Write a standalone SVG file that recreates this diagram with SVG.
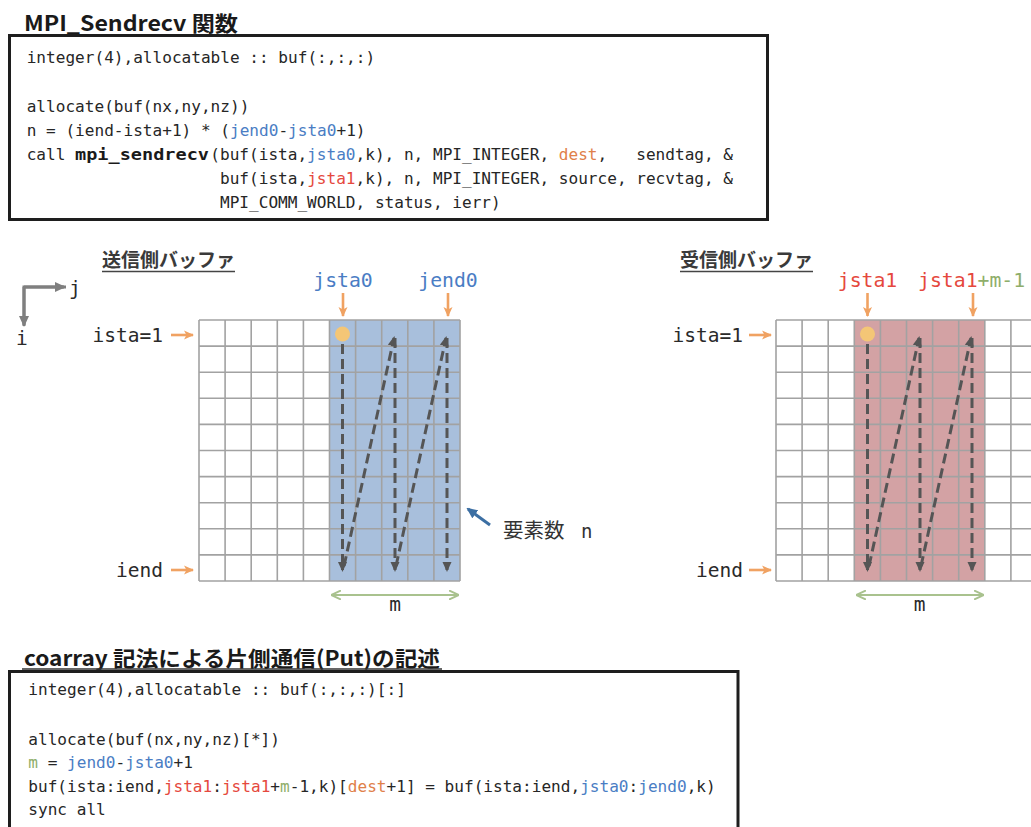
<svg xmlns="http://www.w3.org/2000/svg" width="1031" height="827" viewBox="0 0 1031 827" xml:space="preserve">
<style>
.code{font-family:"DejaVu Sans Mono","Liberation Mono",monospace;font-size:16.08px;fill:#262626;white-space:pre}
.codeb{font-family:"DejaVu Sans Mono","Liberation Mono",monospace;font-size:16.08px;font-weight:bold;fill:#1a1a1a}
.blue{fill:#4a7dc4}
.red{fill:#e5483d}
.org{fill:#e0804a}
.grn{fill:#8fae6a}
.title{font-family:"Noto Sans CJK JP","Noto Sans",sans-serif;font-weight:bold;fill:#1a1a1a}
.sub{font-family:"Noto Sans CJK JP",sans-serif;font-weight:bold;font-size:19px;fill:#3a3a3a}
.lbl{font-family:"DejaVu Sans Mono","Liberation Mono",monospace;font-size:19.5px;fill:#2a2a2a}
.clbl{font-family:"DejaVu Sans Mono","Liberation Mono",monospace;font-size:19.8px}
.box{fill:#fff;stroke:#1e1e1e;stroke-width:3}
.grid{fill:none;stroke:#a2a2a2;stroke-width:1.6}
.dash{fill:none;stroke:#555;stroke-width:3;stroke-dasharray:10 5;marker-end:url(#ad)}
.oarr{fill:none;stroke:#f0a262;stroke-width:2.6;marker-end:url(#ao)}
.garr{fill:none;stroke:#a9c28e;stroke-width:2;marker-start:url(#ag);marker-end:url(#ag)}
</style>
<defs>
<marker id="ad" markerUnits="userSpaceOnUse" markerWidth="10" markerHeight="10" refX="8" refY="5" orient="auto"><path d="M0,0.5 L10,5 L0,9.5 z" fill="#555"/></marker>
<marker id="ao" markerUnits="userSpaceOnUse" markerWidth="10" markerHeight="10" refX="9" refY="5" orient="auto"><path d="M0,0.5 L10,5 L0,9.5 L2.5,5 z" fill="#f0a262"/></marker>
<marker id="ag" markerUnits="userSpaceOnUse" markerWidth="10" markerHeight="10" refX="9" refY="5" orient="auto-start-reverse"><path d="M0,0.5 L10,5 L0,9.5" fill="none" stroke="#a9c28e" stroke-width="2"/></marker>
<marker id="ax" markerUnits="userSpaceOnUse" markerWidth="11" markerHeight="11" refX="9" refY="5.5" orient="auto"><path d="M0,0.5 L11,5.5 L0,10.5 z" fill="#7f7f7f"/></marker>
<marker id="ab" markerUnits="userSpaceOnUse" markerWidth="11" markerHeight="11" refX="9" refY="5.5" orient="auto"><path d="M0,0.5 L11,5.5 L0,10.5 z" fill="#3c6fa3"/></marker>
</defs>
<rect width="1031" height="827" fill="#fff"/>

<g id="sendrecv-code">
<text class="title" x="24" y="31" font-size="21" textLength="214" lengthAdjust="spacingAndGlyphs">MPI_Sendrecv 関数</text>
<rect class="box" x="9.5" y="35.5" width="758" height="184"/>
<text class="code" x="26.7" y="63">integer(4),allocatable :: buf(:,:,:)</text>
<text class="code" x="26.7" y="112">allocate(buf(nx,ny,nz))</text>
<text class="code" x="26.7" y="136">n = (iend-ista+1) * (<tspan class="blue">jend0</tspan>-<tspan class="blue">jsta0</tspan>+1)</text>
<text class="code" x="26.7" y="160">call </text>
<text class="codeb" x="75" y="160" textLength="134" lengthAdjust="spacingAndGlyphs">mpi_sendrecv</text>
<text class="code" x="210.3" y="160">(buf(ista,<tspan class="blue">jsta0</tspan>,k), n, MPI_INTEGER, <tspan class="org">dest</tspan>,   sendtag, &amp;</text>
<text class="code" x="220" y="184">buf(ista,<tspan class="red">jsta1</tspan>,k), n, MPI_INTEGER, source, recvtag, &amp;</text>
<text class="code" x="220" y="208">MPI_COMM_WORLD, status, ierr)</text>
</g>

<g id="axes">
<path d="M24,326 V287 H66" fill="none" stroke="#7f7f7f" stroke-width="3"/>
<path d="M24,287 V325" fill="none" stroke="#7f7f7f" stroke-width="3" marker-end="url(#ax)"/>
<path d="M24,287 H64" fill="none" stroke="#7f7f7f" stroke-width="3" marker-end="url(#ax)"/>
<text class="lbl" x="69" y="295">j</text>
<text class="lbl" x="16" y="345">i</text>
</g>

<g id="send-buffer">
<text class="sub" x="102" y="267" textLength="133" lengthAdjust="spacingAndGlyphs">送信側バッファ</text>
<line x1="102" y1="271.5" x2="235" y2="271.5" stroke="#444" stroke-width="1.6"/>
<rect x="199" y="320" width="261" height="261" fill="#fff"/>
<rect x="329.5" y="320" width="130.5" height="261" fill="#a8bfdc"/>
<path class="grid" d="M199,320 H460 M199,346.1 H460 M199,372.2 H460 M199,398.3 H460 M199,424.4 H460 M199,450.5 H460 M199,476.6 H460 M199,502.7 H460 M199,528.8 H460 M199,554.9 H460 M199,581 H460 M199,320 V581 M225.1,320 V581 M251.2,320 V581 M277.3,320 V581 M303.4,320 V581 M329.5,320 V581 M355.6,320 V581 M381.7,320 V581 M407.8,320 V581 M433.9,320 V581 M460,320 V581"/>
<circle cx="342.5" cy="334" r="7.5" fill="#f4c676"/>
<text class="lbl" x="163" y="342" text-anchor="end">ista=1</text>
<text class="lbl" x="163" y="577" text-anchor="end">iend</text>
<text class="clbl blue" x="343" y="287" text-anchor="middle">jsta0</text>
<text class="clbl blue" x="448" y="287" text-anchor="middle">jend0</text>
<text class="lbl grn" x="395" y="611" text-anchor="middle" font-size="17">m</text>
<text font-family="'Noto Sans CJK JP',sans-serif" font-size="20.5" fill="#333" x="503" y="538">要素数 <tspan x="581" font-family="'DejaVu Sans Mono',monospace" font-size="19">n</tspan></text>
</g>

<g id="recv-buffer">
<text class="sub" x="680" y="267" textLength="133" lengthAdjust="spacingAndGlyphs">受信側バッファ</text>
<line x1="680" y1="271.5" x2="813" y2="271.5" stroke="#444" stroke-width="1.6"/>
<rect x="776" y="320" width="261" height="261" fill="#fff"/>
<rect x="854.3" y="320" width="130.5" height="261" fill="#d3a2a4"/>
<path class="grid" d="M776,320 H1037 M776,346.1 H1037 M776,372.2 H1037 M776,398.3 H1037 M776,424.4 H1037 M776,450.5 H1037 M776,476.6 H1037 M776,502.7 H1037 M776,528.8 H1037 M776,554.9 H1037 M776,581 H1037 M776,320 V581 M802.1,320 V581 M828.2,320 V581 M854.3,320 V581 M880.4,320 V581 M906.5,320 V581 M932.6,320 V581 M958.7,320 V581 M984.8,320 V581 M1010.9,320 V581"/>
<circle cx="867.5" cy="334" r="7.5" fill="#f4c676"/>
<text class="lbl" x="743" y="342" text-anchor="end">ista=1</text>
<text class="lbl" x="743" y="577" text-anchor="end">iend</text>
<text class="clbl red" x="867.5" y="287" text-anchor="middle">jsta1</text>
<text class="clbl" x="918" y="287"><tspan class="red">jsta1</tspan><tspan class="grn">+m-1</tspan></text>
<text class="lbl grn" x="919.5" y="611" text-anchor="middle" font-size="17">m</text>
</g>

<g id="connectors">
<path class="oarr" d="M171,335 H193"/>
<path class="oarr" d="M171,570 H193"/>
<path class="oarr" d="M343,293 V316"/>
<path class="oarr" d="M448,293 V316"/>
<path class="oarr" d="M749,335 H771"/>
<path class="oarr" d="M749,570 H771"/>
<path class="oarr" d="M867.5,293 V316"/>
<path class="oarr" d="M973,293 V316"/>
<path class="dash" d="M342.5,344 V570"/>
<path class="dash" d="M344,566 L394,338"/>
<path class="dash" d="M395,338 V570"/>
<path class="dash" d="M396,566 L446,338"/>
<path class="dash" d="M447,338 V570"/>
<path class="dash" d="M867.5,344 V570"/>
<path class="dash" d="M869,566 L919,338"/>
<path class="dash" d="M920,338 V570"/>
<path class="dash" d="M921,566 L971,338"/>
<path class="dash" d="M972,338 V570"/>
<path class="garr" d="M332,595 H458"/>
<path class="garr" d="M857,595 H983"/>
<path d="M490,525 L468,509" fill="none" stroke="#3c6fa3" stroke-width="3" marker-end="url(#ab)"/>
</g>

<g id="coarray-code">
<text class="title" x="24" y="666" font-size="21" textLength="416" lengthAdjust="spacingAndGlyphs">coarray 記法による片側通信(Put)の記述</text>
<line x1="22" y1="669" x2="442" y2="669" stroke="#333" stroke-width="1.5"/>
<path class="box" d="M9.5,830 V671.5 H738 V830"/>
<text class="code" x="28.3" y="695">integer(4),allocatable :: buf(:,:,:)[:]</text>
<text class="code" x="28.3" y="745">allocate(buf(nx,ny,nz)[*])</text>
<text class="code" x="28.3" y="768"><tspan class="grn">m</tspan> = <tspan class="blue">jend0</tspan>-<tspan class="blue">jsta0</tspan>+1</text>
<text class="code" x="28.3" y="792">buf(ista:iend,<tspan class="red">jsta1</tspan>:<tspan class="red">jsta1</tspan>+<tspan class="grn">m</tspan>-1,k)[<tspan class="org">dest</tspan>+1] = buf(ista:iend,<tspan class="blue">jsta0</tspan>:<tspan class="blue">jend0</tspan>,k)</text>
<text class="code" x="28.3" y="815">sync all</text>
</g>
</svg>
